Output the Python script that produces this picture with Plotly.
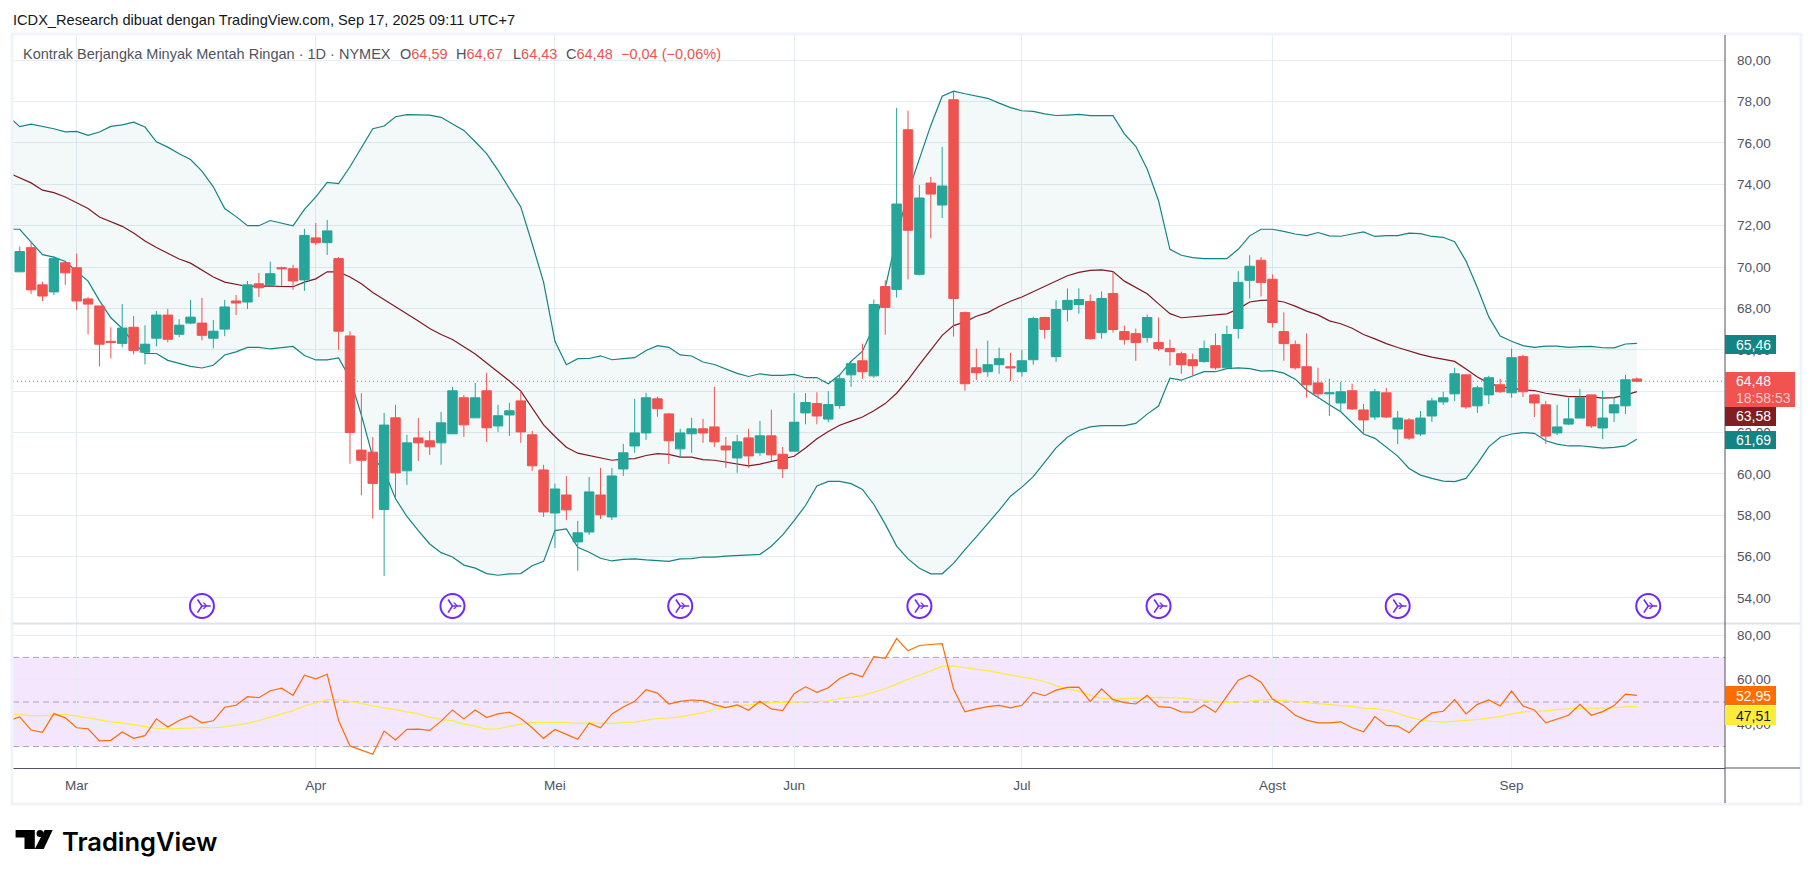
import plotly.graph_objects as go

# candles, Feb 24 .. Sep 17, one row per trading day
open_ = [69.77, 70.94, 69.14, 68.80, 70.21, 69.97, 68.46, 68.12, 66.41, 66.31,
         67.09, 65.88, 66.56, 67.68, 66.75, 67.29, 67.29, 66.56, 67.00, 68.36,
         68.31, 69.19, 69.14, 69.97, 69.92, 69.38, 71.41, 71.18, 70.41, 66.67,
         61.15, 61.05, 58.28, 62.71, 60.15, 61.74, 61.60, 61.50, 61.94, 63.68,
         62.71, 64.02, 62.32, 62.85, 63.53, 61.89, 60.19, 58.11, 58.98, 56.71,
         57.19, 58.98, 57.92, 60.24, 61.35, 61.98, 63.63, 62.90, 61.21, 61.94,
         62.18, 62.27, 61.35, 60.77, 61.74, 61.02, 61.84, 60.95, 61.10, 62.95,
         63.40, 62.65, 63.30, 64.79, 65.47, 64.74, 69.06, 68.92, 76.64, 69.65,
         74.06, 73.00, 78.09, 67.80, 65.13, 64.94, 65.28, 65.18, 64.94, 65.52,
         67.56, 65.67, 67.95, 68.19, 68.34, 66.83, 68.72, 66.88, 66.78, 66.59,
         66.35, 66.06, 65.81, 65.52, 65.43, 66.20, 65.13, 67.03, 69.36, 70.33,
         69.41, 66.88, 66.25, 65.18, 64.40, 63.87, 63.43, 64.02, 63.09, 62.75,
         63.92, 62.17, 62.61, 61.93, 62.80, 63.48, 63.87, 64.79, 63.29, 63.82,
         64.31, 63.92, 65.67, 63.82, 63.34, 61.98, 62.41, 62.70, 63.82, 62.22,
         62.95, 63.29, 64.59]
high = [70.99, 71.23, 69.29, 70.52, 70.30, 70.65, 68.56, 68.12, 67.09, 68.21,
        67.63, 67.19, 67.87, 67.97, 67.48, 68.41, 68.51, 67.44, 68.41, 68.65,
        69.33, 69.72, 70.26, 70.02, 70.11, 71.85, 72.13, 72.28, 70.48, 66.90,
        63.90, 61.78, 62.95, 63.34, 61.89, 62.71, 62.08, 63.00, 64.21, 63.82,
        64.40, 64.89, 63.34, 63.44, 64.02, 62.08, 60.44, 59.52, 59.90, 57.73,
        59.85, 60.29, 60.29, 61.45, 63.63, 63.92, 63.73, 62.95, 62.18, 62.71,
        62.66, 64.21, 61.79, 61.89, 62.18, 62.56, 63.10, 61.30, 63.90, 63.90,
        63.95, 64.00, 64.80, 65.47, 66.30, 68.43, 69.36, 77.70, 77.56, 73.97,
        74.36, 75.81, 78.48, 67.85, 66.06, 66.44, 66.10, 65.86, 66.00, 67.60,
        67.60, 68.39, 68.97, 68.97, 68.68, 68.82, 69.78, 67.17, 67.03, 67.70,
        67.56, 66.49, 65.91, 65.81, 66.45, 66.79, 67.17, 69.80, 70.57, 70.48,
        69.65, 67.81, 66.45, 66.79, 65.13, 64.60, 64.45, 64.36, 63.38, 64.11,
        64.16, 63.04, 62.70, 63.04, 63.68, 63.97, 65.13, 64.79, 64.26, 64.74,
        64.60, 66.06, 65.77, 63.87, 63.53, 63.34, 63.68, 64.11, 63.82, 64.02,
        63.68, 64.79, 64.67]
low = [69.77, 68.70, 68.36, 68.65, 69.14, 67.92, 66.75, 65.19, 65.58, 66.12,
       65.78, 65.29, 66.17, 66.36, 66.61, 67.24, 66.46, 66.07, 66.66, 67.68,
       67.97, 68.56, 69.09, 69.09, 68.90, 68.85, 71.07, 70.59, 66.00, 60.49,
       58.96, 57.84, 55.07, 58.82, 59.47, 60.63, 60.92, 60.44, 61.94, 61.79,
       62.71, 61.55, 62.03, 61.84, 61.50, 60.15, 57.92, 56.42, 57.77, 55.31,
       57.05, 57.82, 57.77, 59.90, 61.02, 61.65, 62.76, 60.48, 60.77, 61.02,
       61.50, 61.31, 60.29, 60.05, 60.29, 60.87, 60.63, 59.80, 61.10, 62.40,
       62.40, 62.50, 63.15, 64.21, 64.60, 64.65, 66.73, 68.53, 69.40, 69.60,
       71.39, 72.37, 66.64, 64.02, 64.55, 64.70, 64.84, 64.50, 64.70, 65.28,
       66.54, 65.42, 67.37, 67.75, 66.49, 66.54, 66.83, 66.25, 65.47, 66.35,
       65.96, 65.23, 64.84, 64.74, 65.38, 65.04, 65.13, 66.54, 68.49, 68.58,
       67.08, 65.47, 65.04, 63.68, 63.68, 62.80, 63.00, 63.09, 61.93, 62.61,
       62.70, 61.44, 61.64, 61.83, 62.51, 63.34, 63.53, 63.14, 62.95, 63.38,
       63.92, 63.68, 63.72, 62.75, 61.44, 61.88, 62.36, 62.70, 62.22, 61.68,
       62.51, 62.90, 64.43]
close = [70.75, 68.90, 68.60, 70.41, 69.72, 68.36, 68.21, 66.27, 66.36, 67.05,
         65.97, 66.27, 67.68, 66.51, 67.19, 67.58, 66.70, 66.90, 68.07, 68.26,
         69.14, 69.00, 69.68, 69.92, 69.33, 71.53, 71.18, 71.75, 66.90, 62.00,
         60.66, 59.54, 62.36, 60.05, 61.50, 61.50, 61.31, 62.47, 64.02, 62.37,
         63.68, 62.23, 62.81, 63.05, 62.03, 60.39, 58.16, 59.27, 58.26, 57.15,
         59.13, 58.02, 59.90, 61.02, 61.98, 63.68, 63.15, 61.60, 61.98, 62.18,
         61.98, 61.55, 61.16, 61.55, 60.87, 61.84, 60.92, 60.25, 62.50, 63.45,
         62.80, 63.35, 64.60, 65.33, 64.94, 68.19, 68.05, 73.05, 71.78, 73.34,
         73.53, 73.92, 68.48, 64.36, 64.89, 65.28, 65.57, 65.13, 65.47, 67.51,
         66.98, 67.95, 68.39, 68.43, 66.54, 68.48, 66.98, 66.49, 66.35, 67.56,
         66.06, 65.91, 65.28, 65.23, 66.06, 65.13, 66.74, 69.26, 70.04, 69.26,
         67.32, 66.30, 65.13, 64.31, 63.87, 63.92, 63.97, 63.14, 62.61, 63.97,
         62.75, 62.70, 61.73, 62.70, 63.53, 63.68, 64.84, 63.24, 64.16, 64.65,
         63.97, 65.62, 63.97, 63.43, 61.83, 62.27, 62.66, 63.68, 62.32, 62.70,
         63.34, 64.55, 64.48]

# bollinger bands, first value is the bar cut off at the left edge
bb_upper = [77.29, 76.79, 76.91, 76.81, 76.69, 76.54, 76.56, 76.37, 76.53, 76.80, 76.88,
            77.01, 76.77, 76.06, 75.80, 75.48, 75.20, 74.64, 73.88, 72.83, 72.44,
            72.00, 72.00, 72.25, 72.12, 71.99, 72.79, 73.39, 74.09, 74.04, 74.85,
            75.74, 76.69, 76.82, 77.27, 77.37, 77.35, 77.35, 77.24, 76.93, 76.61,
            76.06, 75.49, 74.68, 73.80, 72.91, 71.13, 69.27, 66.41, 65.28, 65.57,
            65.58, 65.71, 65.52, 65.57, 65.62, 65.97, 66.20, 66.12, 65.75, 65.70,
            65.41, 65.29, 65.07, 64.86, 64.71, 64.84, 64.76, 64.76, 64.81, 64.65,
            64.66, 64.36, 64.79, 65.44, 65.93, 67.14, 69.00, 71.43, 73.61, 75.23,
            76.85, 78.26, 78.51, 78.38, 78.26, 78.16, 77.93, 77.71, 77.56, 77.53,
            77.41, 77.33, 77.35, 77.38, 77.32, 77.33, 77.32, 76.44, 75.84, 74.74,
            73.21, 70.86, 70.57, 70.46, 70.41, 70.41, 70.41, 70.86, 71.51, 71.83,
            71.83, 71.73, 71.60, 71.52, 71.67, 71.51, 71.49, 71.60, 71.70, 71.48,
            71.52, 71.52, 71.64, 71.62, 71.48, 71.44, 71.23, 70.29, 69.00, 67.59,
            66.67, 66.41, 66.20, 66.12, 66.18, 66.18, 66.12, 66.15, 66.17, 66.10,
            66.09, 66.28, 66.31]
bb_basis = [74.56, 74.31, 74.07, 73.72, 73.60, 73.39, 73.12, 72.83, 72.42, 72.18, 71.97,
            71.65, 71.26, 70.95, 70.65, 70.39, 70.19, 69.84, 69.52, 69.27, 69.16,
            69.06, 69.08, 69.09, 69.06, 69.05, 69.27, 69.43, 69.77, 69.77, 69.52,
            69.19, 68.77, 68.43, 68.08, 67.76, 67.39, 67.03, 66.74, 66.50, 66.14,
            65.80, 65.36, 64.92, 64.49, 64.00, 63.18, 62.37, 61.81, 61.29, 61.00,
            60.89, 60.79, 60.66, 60.71, 60.74, 60.89, 60.98, 60.94, 60.81, 60.81,
            60.69, 60.66, 60.58, 60.47, 60.39, 60.47, 60.60, 60.73, 60.85, 61.25,
            61.70, 62.05, 62.35, 62.55, 62.75, 63.05, 63.40, 63.90, 64.55, 65.28,
            66.00, 66.70, 67.17, 67.35, 67.62, 67.80, 68.09, 68.35, 68.55, 68.81,
            69.03, 69.32, 69.58, 69.74, 69.84, 69.86, 69.78, 69.32, 69.03, 68.71,
            68.22, 67.75, 67.55, 67.60, 67.64, 67.68, 67.74, 67.98, 68.31, 68.39,
            68.40, 68.31, 68.11, 67.87, 67.69, 67.40, 67.26, 67.04, 66.74, 66.53,
            66.30, 66.11, 65.93, 65.78, 65.65, 65.55, 65.44, 65.07, 64.68, 64.39,
            64.21, 64.15, 64.06, 64.03, 63.90, 63.82, 63.74, 63.74, 63.74, 63.66,
            63.69, 63.81, 63.98]
bb_lower = [71.83, 71.83, 71.21, 70.60, 70.48, 70.27, 69.79, 69.32, 68.38, 67.55, 67.03,
            66.33, 65.82, 65.82, 65.49, 65.33, 65.20, 65.12, 65.25, 65.75, 65.90,
            66.12, 66.12, 66.04, 66.11, 66.16, 65.72, 65.51, 65.51, 65.61, 64.63,
            62.85, 60.82, 60.14, 58.80, 57.94, 57.26, 56.61, 56.19, 55.98, 55.59,
            55.44, 55.18, 55.10, 55.17, 55.18, 55.56, 55.77, 57.26, 57.34, 56.45,
            56.21, 55.92, 55.79, 55.87, 55.89, 55.84, 55.79, 55.77, 55.89, 55.90,
            55.98, 55.98, 56.02, 56.06, 56.10, 56.11, 56.50, 57.05, 57.74, 58.47,
            59.42, 59.64, 59.64, 59.53, 59.25, 58.52, 57.57, 56.51, 55.89, 55.44,
            55.17, 55.17, 55.67, 56.34, 56.95, 57.57, 58.24, 58.92, 59.36, 59.87,
            60.54, 61.26, 61.77, 62.10, 62.27, 62.33, 62.33, 62.33, 62.44, 62.89,
            63.28, 64.63, 64.53, 64.74, 64.94, 64.94, 65.09, 65.13, 65.09, 64.97,
            64.99, 64.87, 64.58, 64.06, 63.69, 63.34, 63.00, 62.45, 61.93, 61.72,
            61.31, 60.86, 60.26, 59.94, 59.78, 59.65, 59.63, 59.78, 60.50, 61.31,
            61.77, 61.93, 62.00, 61.96, 61.60, 61.44, 61.35, 61.36, 61.31, 61.25,
            61.28, 61.35, 61.67]

rsi = [41.56, 43.33, 37.41, 36.37, 44.81, 42.89, 38.44, 38.00, 32.52, 32.81, 36.52,
       33.70, 34.89, 42.44, 38.74, 41.70, 43.78, 40.67, 41.56, 47.63, 48.52,
       52.37, 51.93, 55.04, 56.22, 52.96, 62.00, 60.37, 62.44, 41.70, 30.30,
       28.37, 26.59, 36.96, 32.96, 37.70, 37.85, 37.26, 41.41, 46.44, 42.44,
       46.44, 43.04, 44.67, 45.41, 42.59, 38.44, 33.70, 37.70, 35.48, 33.26,
       40.52, 38.44, 44.67, 47.78, 50.30, 55.48, 54.00, 49.11, 50.30, 50.89,
       50.60, 48.81, 47.48, 48.67, 46.30, 50.30, 46.89, 46.15, 53.70, 56.81,
       54.30, 56.37, 60.52, 62.89, 61.26, 70.30, 69.56, 78.44, 72.96, 75.33,
       75.78, 76.22, 55.78, 45.56, 46.89, 47.93, 48.52, 47.33, 48.52, 54.30,
       52.81, 55.33, 56.52, 56.67, 50.15, 55.93, 51.04, 49.70, 49.11, 52.96,
       47.93, 47.63, 45.56, 45.41, 48.67, 45.41, 52.67, 59.78, 62.00, 58.89,
       51.33, 48.37, 44.07, 41.85, 40.67, 40.67, 41.11, 38.44, 36.67, 43.48,
       39.48, 39.19, 36.22, 41.41, 45.11, 45.85, 51.04, 44.67, 48.96, 50.89,
       48.22, 54.89, 48.22, 46.44, 40.67, 42.44, 44.07, 48.96, 44.07, 45.70,
       48.37, 53.50, 53.00]
rsi_ma = [44.80, 44.37, 43.90, 43.90, 44.20, 44.40, 43.80, 42.90, 41.85, 41.10, 40.67,
          39.78, 38.74, 38.15, 38.00, 38.00, 38.30, 38.60, 38.44, 38.90, 39.50,
          40.40, 41.70, 43.20, 44.67, 46.15, 48.20, 49.55, 51.04, 51.04, 50.30,
          49.40, 48.20, 47.50, 46.60, 45.55, 44.67, 43.20, 42.15, 41.56, 40.07,
          39.20, 37.85, 38.00, 39.20, 40.07, 40.80, 40.80, 40.96, 40.80, 40.37,
          40.67, 40.37, 40.37, 40.80, 40.96, 41.85, 42.60, 42.90, 43.33, 44.20,
          45.26, 46.74, 47.48, 48.37, 48.67, 49.26, 49.70, 49.85, 50.00, 50.00,
          50.00, 50.44, 51.48, 52.07, 52.81, 54.44, 55.93, 58.00, 60.22, 62.00,
          63.93, 66.00, 66.15, 65.26, 64.67, 64.07, 63.19, 62.15, 61.26, 60.22,
          59.19, 57.26, 56.07, 54.74, 52.96, 51.63, 51.33, 51.63, 51.78, 51.93,
          52.07, 52.07, 51.78, 51.19, 50.89, 50.15, 49.85, 50.00, 50.59, 50.89,
          51.04, 50.60, 50.00, 49.56, 48.96, 48.67, 48.37, 48.07, 47.19, 47.04,
          46.30, 44.96, 43.19, 42.00, 41.26, 40.96, 41.26, 41.70, 42.15, 42.89,
          43.48, 44.67, 45.56, 45.85, 46.00, 46.59, 47.04, 47.19, 47.19, 47.19,
          47.33, 47.78, 47.93]

bars = list(range(len(close)))
line_bars = [-1] + bars

month_bars = [5, 26, 47, 68, 88, 110, 131]
month_names = ["Mar", "Apr", "Mei", "Jun", "Jul", "Agst", "Sep"]
event_bars = [16, 38, 58, 79, 100, 121, 143]
event_level = [53.61] * len(event_bars)
price_ticks = list(range(54, 82, 2))
rsi_ticks = [40, 60, 80]
rsi_levels = [30, 50, 70]
last_price = 64.48

W, H = 1814, 878
GREEN, RED = "#26a69a", "#ef5350"
TEAL, MAROON = "#138484", "#801922"
PURPLE = "#7127ff"
GRID = "#e4edf2"
TXT = "#50535e"
FONT = "Liberation Sans"


def fx(px):
    return px / W


def fy(py):
    return 1 - py / H


fig = go.Figure()

fig.add_trace(go.Scatter(x=line_bars, y=bb_lower, mode="lines", line=dict(color=TEAL, width=1.2),
                         xaxis="x", yaxis="y", hoverinfo="skip"))
fig.add_trace(go.Scatter(x=line_bars, y=bb_upper, mode="lines", line=dict(color=TEAL, width=1.2),
                         fill="tonexty", fillcolor="rgba(19,132,132,0.05)",
                         xaxis="x", yaxis="y", hoverinfo="skip"))
fig.add_trace(go.Scatter(x=line_bars, y=bb_basis, mode="lines", line=dict(color=MAROON, width=1.2),
                         xaxis="x", yaxis="y", hoverinfo="skip"))

# candles on an overlaid axis so they sit above the band lines
fig.add_trace(go.Candlestick(x=bars, open=open_, high=high, low=low, close=close,
                             increasing=dict(line=dict(color=GREEN, width=1), fillcolor=GREEN),
                             decreasing=dict(line=dict(color=RED, width=1), fillcolor=RED),
                             whiskerwidth=0, xaxis="x", yaxis="y3"))

# event icons: ring, forked tail, arrow head
fig.add_trace(go.Scatter(x=event_bars, y=event_level, mode="markers", xaxis="x", yaxis="y3",
                         marker=dict(symbol="circle-open", size=24, color=PURPLE,
                                     line=dict(color=PURPLE, width=2))))
fig.add_trace(go.Scatter(x=event_bars, y=event_level, mode="markers", xaxis="x", yaxis="y3",
                         marker=dict(symbol="y-right-open", size=11, color=PURPLE,
                                     line=dict(color=PURPLE, width=1.6))))
fig.add_trace(go.Scatter(x=event_bars, y=event_level, mode="text", text=["›"] * len(event_bars),
                         textposition="middle right", xaxis="x", yaxis="y3",
                         textfont=dict(family=FONT, size=17, color=PURPLE)))

fig.add_trace(go.Scatter(x=line_bars, y=rsi_ma, mode="lines", line=dict(color="#ffeb3b", width=1.2),
                         xaxis="x2", yaxis="y2", hoverinfo="skip"))
fig.add_trace(go.Scatter(x=line_bars, y=rsi, mode="lines", line=dict(color="#ff6d00", width=1.2),
                         xaxis="x2", yaxis="y2", hoverinfo="skip"))

x_dom = [fx(13), fx(1725)]
x_rng = [-0.59, 149.74]
main_rng = [52.79, 81.27]

fig.update_layout(
    width=W, height=H, margin=dict(l=0, r=0, t=0, b=0), showlegend=False,
    paper_bgcolor="white", plot_bgcolor="white", separators=",.", boxgap=0.17, boxgroupgap=0,
    font=dict(family=FONT, size=13, color=TXT),
    xaxis=dict(domain=x_dom, range=x_rng, tickmode="array", tickvals=month_bars, showticklabels=False,
               gridcolor=GRID, zeroline=False, rangeslider=dict(visible=False), anchor="y", ticklen=0),
    yaxis=dict(domain=[fy(623), fy(34)], range=main_rng, side="right", anchor="x", tickmode="array",
               tickvals=price_ticks, tickformat=".2f", gridcolor=GRID, zeroline=False,
               tickfont=dict(size=13.5, color=TXT), ticklabelstandoff=11, ticklen=0),
    yaxis3=dict(domain=[fy(623), fy(34)], range=main_rng, overlaying="y", visible=False, anchor="x"),
    xaxis2=dict(domain=x_dom, range=x_rng, tickmode="array", tickvals=month_bars, ticktext=month_names,
                gridcolor=GRID, zeroline=False, anchor="y2", showline=True, linecolor=TXT, linewidth=1,
                tickfont=dict(size=13.5, color=TXT), ticklen=0, ticklabelstandoff=5),
    yaxis2=dict(domain=[fy(768), fy(624)], range=[20.4, 84.98], side="right", anchor="x2", tickmode="array",
                tickvals=rsi_ticks, tickformat=".2f", gridcolor=GRID, zeroline=False,
                tickfont=dict(size=13.5, color=TXT), ticklabelstandoff=11, ticklen=0),
)

shapes = []
# rsi band and its dashed levels
shapes.append(dict(type="rect", xref="x2 domain", yref="y2", x0=0, x1=1, y0=rsi_levels[0], y1=rsi_levels[2],
                   fillcolor="rgba(162,53,240,0.125)", line_width=0, layer="below"))
for lv in rsi_levels:
    shapes.append(dict(type="line", xref="x2 domain", yref="y2", x0=0, x1=1, y0=lv, y1=lv,
                       line=dict(color="#a9a4b0", width=1, dash="6px,4px"), layer="below"))
# last price line
shapes.append(dict(type="line", xref="x domain", yref="y", x0=0, x1=1, y0=last_price, y1=last_price,
                   line=dict(color=RED, width=1, dash="1px,3px"), layer="below"))
# pane frame, separator and price axis line
shapes.append(dict(type="rect", xref="paper", yref="paper", x0=fx(12), x1=fx(1801), y0=fy(804), y1=fy(34),
                   line=dict(color="#f0f3fa", width=3), layer="above"))
shapes.append(dict(type="line", xref="paper", yref="paper", x0=fx(13), x1=fx(1800), y0=fy(623.5), y1=fy(623.5),
                   line=dict(color="#e0e3eb", width=2)))
shapes.append(dict(type="line", xref="paper", yref="paper", x0=fx(1725), x1=fx(1725), y0=fy(803), y1=fy(35),
                   line=dict(color=TXT, width=1)))
shapes.append(dict(type="line", xref="paper", yref="paper", x0=fx(1725), x1=fx(1800), y0=fy(768), y1=fy(768),
                   line=dict(color=TXT, width=1)))

# value tags on the right scale: x1, y0, y1, colour, text, text colour
tags = [
    (1776, 335, 354, "#138484", "65,46", "white"),
    (1795, 372, 407, "#f05350", "", "white"),
    (1776, 407, 426, "#801f22", "63,58", "white"),
    (1776, 431, 449, "#138484", "61,69", "white"),
    (1776, 686, 705, "#ff6d00", "52,95", "white"),
    (1776, 706, 725, "#ffeb3b", "47,51", "#131722"),
]
notes = []


def note(px, py, text, color=TXT, size=14.5, family=FONT, weight=None):
    notes.append(dict(x=fx(px), y=fy(py), xref="paper", yref="paper", text=text, showarrow=False,
                      xanchor="left", yanchor="middle",
                      font=dict(family=family, size=size, color=color, weight=weight)))


for x1, y0, y1, col, txt, tcol in tags:
    shapes.append(dict(type="rect", xref="paper", yref="paper", x0=fx(1725), x1=fx(x1), y0=fy(y1), y1=fy(y0),
                       fillcolor=col, line_width=0, layer="above"))
    if txt:
        note(1734, (y0 + y1) / 2, txt, tcol, 14)
note(1734, 381, "64,48", "white", 14)
note(1734, 398, "18:58:53", "#fbc9c7", 14)

note(11, 20, "ICDX_Research dibuat dengan TradingView.com, Sep 17, 2025 09:11 UTC+7", "#131722", 14.6)
note(21, 54, "Kontrak Berjangka Minyak Mentah Ringan · 1D · NYMEX", TXT)
note(398, 54, "O<span style='color:#ef5350'>64,59</span>", TXT)
note(454, 54, "H<span style='color:#ef5350'>64,67</span>", TXT)
note(511, 54, "L<span style='color:#ef5350'>64,43</span>", TXT)
note(564, 54, "C<span style='color:#ef5350'>64,48</span>", TXT)
note(619, 54, "−0,04 (−0,06%)", RED)
note(60, 841, "TradingView", "#000000", 25.5, "Inter", 600)

# logo: T and slanted bar as paths, dot as a circle
logo_paths = [
    [(15.6, 830), (34.8, 830), (34.8, 849), (24.5, 849), (24.5, 837.5), (15.6, 837.5)],
    [(44.6, 830), (52.7, 830), (43.7, 849), (34.8, 849)],
]
for pts in logo_paths:
    path = "M " + " L ".join("%.5f %.5f" % (fx(a), fy(b)) for a, b in pts) + " Z"
    shapes.append(dict(type="path", xref="paper", yref="paper", path=path, fillcolor="#000000", line_width=0))
shapes.append(dict(type="circle", xref="paper", yref="paper", x0=fx(36.5), x1=fx(43.5), y0=fy(837), y1=fy(830),
                   fillcolor="#000000", line_width=0))

fig.update_layout(shapes=shapes, annotations=notes)

fig.write_html("out.html", config={"displayModeBar": False},
               post_script="document.body.style.margin='0';document.body.style.overflow='hidden';")
